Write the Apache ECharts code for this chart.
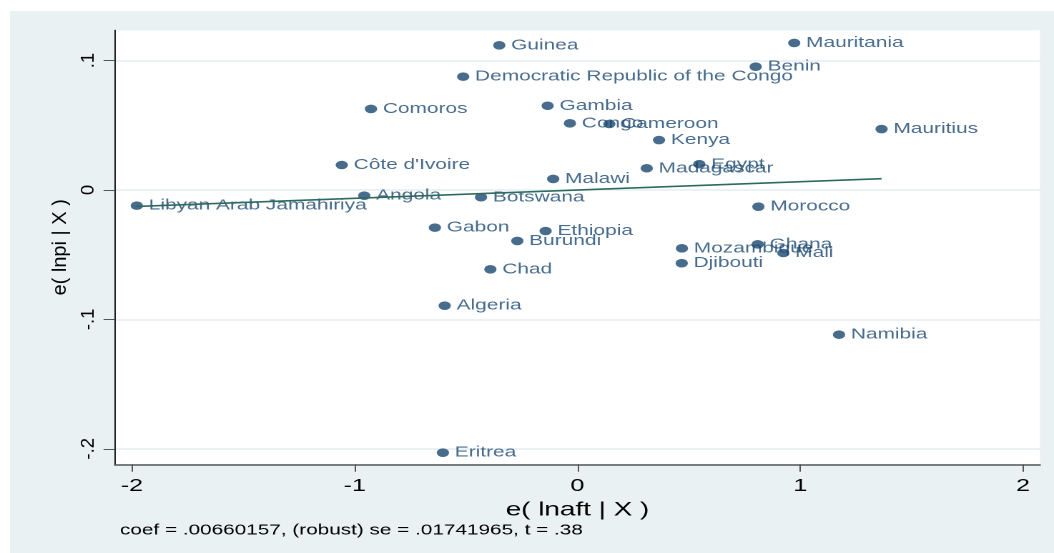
<!DOCTYPE html>
<html>
<head>
<meta charset="utf-8">
<title>Added-variable plot</title>
<script src="https://cdn.jsdelivr.net/npm/echarts@6/dist/echarts.min.js"></script>
<style>
  html, body { margin: 0; padding: 0; background: #fff; }
  /* the reference is a Stata graph drawn wide, so the chart is drawn narrow and widened (see stretch) */
  #avplot {
    position: absolute;
    left: 10px;
    top: 11px;
    width: 730px;
    height: 542px;
    transform-origin: 0 0;
  }
</style>
</head>
<body>
<div id="avplot"></div>
<script>
// countries and their residuals
const countries = [
  'Guinea', 'Mauritania', 'Benin', 'Democratic Republic of the Congo', 'Comoros',
  'Gambia', 'Congo', 'Cameroon', 'Mauritius', 'Kenya',
  "Côte d'Ivoire", 'Egypt', 'Madagascar', 'Malawi', 'Angola',
  'Botswana', 'Libyan Arab Jamahiriya', 'Morocco', 'Gabon', 'Ethiopia',
  'Burundi', 'Ghana', 'Mozambique', 'Mali', 'Djibouti',
  'Chad', 'Algeria', 'Namibia', 'Eritrea'
]
const lnaftResid = [
  -0.351, 0.973, 0.800, -0.513, -0.927,
  -0.134, -0.034, 0.143, 1.365, 0.366,
  -1.058, 0.547, 0.311, -0.109, -0.957,
  -0.433, -1.978, 0.812, -0.640, -0.143,
  -0.270, 0.809, 0.469, 0.924, 0.468,
  -0.391, -0.596, 1.174, -0.604
]
const lnpiResid = [
  0.1118, 0.1136, 0.0953, 0.0876, 0.0626,
  0.0651, 0.0515, 0.0510, 0.0471, 0.0386,
  0.0193, 0.0199, 0.0168, 0.0085, -0.0044,
  -0.0056, -0.0121, -0.0129, -0.0291, -0.0317,
  -0.0394, -0.0420, -0.0451, -0.0487, -0.0566,
  -0.0613, -0.0894, -0.1118, -0.2030
]

// fitted line end points
const fitX = [-1.978, 1.365]
const fitY = [-0.0127, 0.0087]

// tick labels
const xTicks = [-2, -1, 0, 1, 2]
const yTicks = [-0.2, -0.1, 0, 0.1]

const xTitle = 'e( lnaft | X )'
const yTitle = 'e( lnpi | X )'
const footnote = 'coef = .00660157, (robust) se = .01741965, t = .38'

const navy = '#1a476f'
const font = 'Liberation Sans, Arial, Helvetica, sans-serif'
const stretch = 1.4301

// Stata style: drop the leading zero (.1, -.1)
const stataNum = (v) => String(+v.toFixed(2)).replace(/^(-?)0\./, '$1.')

const dom = document.getElementById('avplot')
dom.style.transform = 'scaleX(' + stretch + ')'
const chart = echarts.init(dom, null, { devicePixelRatio: 2 })

const option = {
  backgroundColor: '#eaf1f3',
  animation: false,
  textStyle: { fontFamily: font },
  grid: {
    left: 73.4,
    right: 9.8,
    top: 19.3,
    bottom: 88.7,
    show: true,
    backgroundColor: '#ffffff',
    borderWidth: 0,
    outerBoundsMode: 'none'
  },
  xAxis: {
    type: 'value',
    min: -2.076,
    max: 2.076,
    name: xTitle,
    nameLocation: 'middle',
    nameGap: 28,
    nameTextStyle: { fontSize: 19.5, color: '#000', fontFamily: font },
    axisLine: { onZero: false, lineStyle: { color: '#555', width: 1.5 } },
    axisTick: { customValues: xTicks, length: 7.5, lineStyle: { color: '#555', width: 1 } },
    axisLabel: {
      customValues: xTicks,
      margin: 13,
      fontSize: 17.5,
      color: '#000',
      formatter: (v) => stataNum(v)
    },
    splitLine: { show: false }
  },
  yAxis: {
    type: 'value',
    min: -0.212,
    max: 0.1234,
    axisLine: { onZero: false, lineStyle: { color: '#222', width: 1 } },
    axisTick: { customValues: yTicks, length: 8, lineStyle: { color: '#555', width: 1 } },
    // labels and title are drawn below as graphic text so the sideways stretch can be undone
    axisLabel: { show: false, customValues: yTicks },
    splitLine: { show: true, lineStyle: { color: '#e6eef1', width: 1.5 } }
  },
  series: [
    {
      name: 'fit',
      type: 'line',
      data: fitX.map((x, i) => [x, fitY[i]]),
      showSymbol: false,
      lineStyle: { color: '#2e6b5e', width: 1.6 },
      z: 3
    },
    {
      name: 'countries',
      type: 'scatter',
      data: countries.map((c, i) => ({ name: c, value: [lnaftResid[i], lnpiResid[i]] })),
      symbol: 'circle',
      symbolSize: 8.6,
      itemStyle: { color: navy },
      label: {
        show: true,
        position: 'right',
        distance: 4,
        formatter: '{b}',
        fontSize: 14.6,
        color: navy,
        fontFamily: font
      },
      z: 2
    }
  ]
}

chart.setOption(option)

// upright (rotated) y-axis text, placed from the axis scale
const sideText = (text, x, y, size) => ({
  type: 'text',
  x: x,
  y: y,
  rotation: Math.PI / 2,
  scaleY: 1 / stretch,
  style: {
    text: text,
    fontSize: size,
    fontFamily: font,
    fill: '#000',
    align: 'center',
    verticalAlign: 'middle'
  }
})

const yMid = chart.convertToPixel({ yAxisIndex: 0 }, (-0.212 + 0.1234) / 2)

chart.setOption({
  graphic: [
    {
      type: 'text',
      left: 76.9,
      top: 512,
      style: { text: footnote, fontSize: 14.5, fill: '#000', fontFamily: font }
    },
    sideText(yTitle, 35.3, yMid, 20),
    ...yTicks.map((v) => sideText(stataNum(v), 55, chart.convertToPixel({ yAxisIndex: 0 }, v), 18.5))
  ]
})
</script>
</body>
</html>
